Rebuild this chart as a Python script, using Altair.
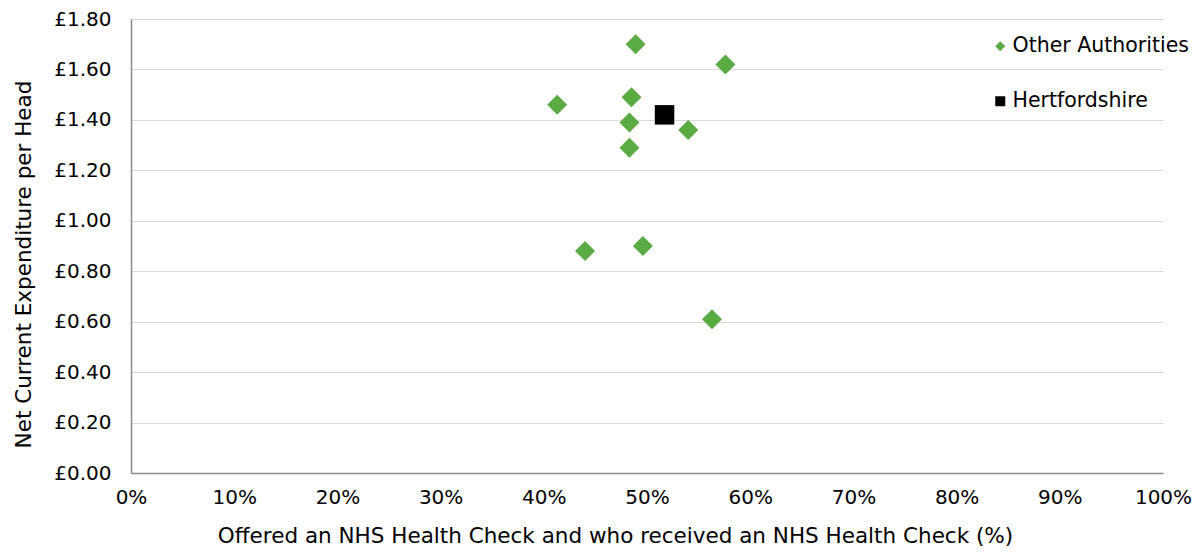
import altair as alt
import pandas as pd

# Offered an NHS Health Check and who received one (%)
other_x = [41.3, 44.0, 48.3, 48.3, 48.5, 48.9, 49.6, 54.0, 56.3, 57.6]
# Net current expenditure per head (£)
other_y = [1.46, 0.88, 1.29, 1.39, 1.49, 1.70, 0.90, 1.36, 0.61, 1.62]
herts_x = [51.7]
herts_y = [1.42]
series = ["Other Authorities", "Hertfordshire"]
colors = ["#5aab44", "#000000"]
shapes = ["diamond", "square"]

df_other = pd.DataFrame({"x": other_x, "y": other_y, "s": series[0]})
df_herts = pd.DataFrame({"x": herts_x, "y": herts_y, "s": series[1]})

FONT = "DejaVu Sans"

x_enc = alt.X(
    "x:Q",
    scale=alt.Scale(domain=[0, 100]),
    axis=alt.Axis(
        values=list(range(0, 101, 10)),
        labelExpr="datum.value + '%'",
        title="Offered an NHS Health Check and who received an NHS Health Check (%)",
        grid=False, ticks=False, domainColor="#898989", domainWidth=1.5,
        labelPadding=14, titlePadding=18, labelFlush=False, titleX=484,
    ),
)
y_enc = alt.Y(
    "y:Q",
    scale=alt.Scale(domain=[0, 1.8]),
    axis=alt.Axis(
        values=[0, 0.2, 0.4, 0.6, 0.8, 1.0, 1.2, 1.4, 1.6, 1.8],
        labelExpr="'£' + format(datum.value, '.2f')",
        title="Net Current  Expenditure per Head",
        grid=True, gridColor="#d9d9d9", gridWidth=1,
        ticks=False, domainColor="#898989", domainWidth=1.5,
        labelPadding=20, titlePadding=18, labelFlush=False, titleY=245,
    ),
)
leg = alt.Legend(
    title=None, orient="none", legendX=859, legendY=17,
    symbolSize=100, labelOffset=2, rowPadding=34,
    labelFont=FONT, labelFontSize=20.5, labelColor="#000000", labelLimit=400,
    symbolStrokeWidth=0, padding=0,
)
color_enc = alt.Color("s:N", scale=alt.Scale(domain=series, range=colors), legend=leg)
shape_enc = alt.Shape("s:N", scale=alt.Scale(domain=series, range=shapes), legend=leg)

others = alt.Chart(df_other).mark_point(filled=True, size=400, opacity=1).encode(
    x=x_enc, y=y_enc, color=color_enc, shape=shape_enc
)
herts = alt.Chart(df_herts).mark_point(filled=True, size=380, opacity=1).encode(
    x=x_enc, y=y_enc, color=color_enc, shape=shape_enc
)

chart = alt.layer(others, herts).properties(
    width=1032, height=454,
    autosize=alt.AutoSizeParams(type="none"),
    padding={"left": 123, "top": 11, "right": 31, "bottom": 76},
    background="#ffffff",
).configure_view(stroke=None).configure_axis(
    labelFont=FONT, labelFontSize=20, labelColor="#000000",
    titleFont=FONT, titleFontSize=21.5, titleFontWeight="normal", titleColor="#000000",
)

chart.save("out.html", embed_options={"renderer": "svg", "actions": False})
